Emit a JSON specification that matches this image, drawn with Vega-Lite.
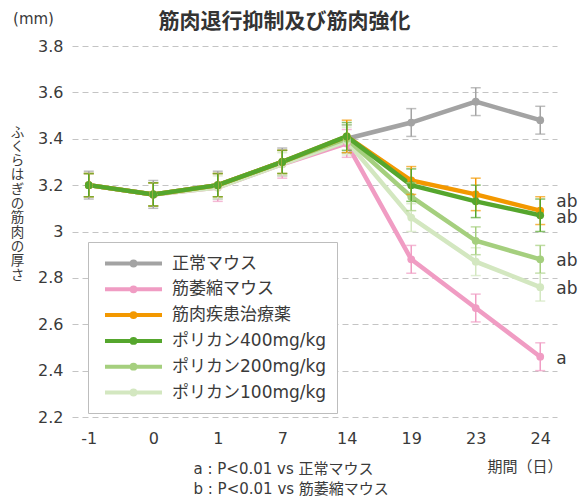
{
  "$schema": "https://vega.github.io/schema/vega-lite/v6.json",
  "width": 485,
  "height": 371,
  "autosize": {"type": "none"},
  "padding": {"left": 72, "top": 46, "right": 21, "bottom": 80},
  "background": "white",
  "title": {
    "text": "筋肉退行抑制及び筋肉強化",
    "font": "Noto Sans CJK JP",
    "fontSize": 21,
    "fontWeight": "bold",
    "color": "#333333",
    "anchor": "middle",
    "dx": -30,
    "dy": 35,
    "offset": 14
  },
  "config": {
    "view": {"stroke": null},
    "font": "DejaVu Sans, Noto Sans CJK JP",
    "axis": {"labelFont": "DejaVu Sans, Noto Sans CJK JP", "titleFont": "DejaVu Sans, Noto Sans CJK JP", "labelColor": "#3a3a3a", "titleColor": "#3a3a3a", "titleFontWeight": "normal"},
    "legend": {"labelFont": "DejaVu Sans, Noto Sans CJK JP"}
  },
  "datasets": {
    "d": [
      {"series": "正常マウス", "day": "-1", "value": 3.20, "err": 0.06},
      {"series": "正常マウス", "day": "0", "value": 3.16, "err": 0.06},
      {"series": "正常マウス", "day": "1", "value": 3.20, "err": 0.06},
      {"series": "正常マウス", "day": "7", "value": 3.30, "err": 0.06},
      {"series": "正常マウス", "day": "14", "value": 3.40, "err": 0.06},
      {"series": "正常マウス", "day": "19", "value": 3.47, "err": 0.06},
      {"series": "正常マウス", "day": "23", "value": 3.56, "err": 0.06},
      {"series": "正常マウス", "day": "24", "value": 3.48, "err": 0.06},
      {"series": "筋萎縮マウス", "day": "-1", "value": 3.20, "err": 0.05},
      {"series": "筋萎縮マウス", "day": "0", "value": 3.16, "err": 0.05},
      {"series": "筋萎縮マウス", "day": "1", "value": 3.19, "err": 0.06},
      {"series": "筋萎縮マウス", "day": "7", "value": 3.29, "err": 0.06},
      {"series": "筋萎縮マウス", "day": "14", "value": 3.38, "err": 0.06},
      {"series": "筋萎縮マウス", "day": "19", "value": 2.88, "err": 0.06},
      {"series": "筋萎縮マウス", "day": "23", "value": 2.67, "err": 0.06},
      {"series": "筋萎縮マウス", "day": "24", "value": 2.46, "err": 0.06},
      {"series": "ポリカン100mg/kg", "day": "-1", "value": 3.20, "err": 0.05},
      {"series": "ポリカン100mg/kg", "day": "0", "value": 3.16, "err": 0.05},
      {"series": "ポリカン100mg/kg", "day": "1", "value": 3.19, "err": 0.05},
      {"series": "ポリカン100mg/kg", "day": "7", "value": 3.29, "err": 0.05},
      {"series": "ポリカン100mg/kg", "day": "14", "value": 3.39, "err": 0.06},
      {"series": "ポリカン100mg/kg", "day": "19", "value": 3.06, "err": 0.06},
      {"series": "ポリカン100mg/kg", "day": "23", "value": 2.87, "err": 0.06},
      {"series": "ポリカン100mg/kg", "day": "24", "value": 2.76, "err": 0.06},
      {"series": "ポリカン200mg/kg", "day": "-1", "value": 3.20, "err": 0.05},
      {"series": "ポリカン200mg/kg", "day": "0", "value": 3.16, "err": 0.05},
      {"series": "ポリカン200mg/kg", "day": "1", "value": 3.20, "err": 0.05},
      {"series": "ポリカン200mg/kg", "day": "7", "value": 3.30, "err": 0.05},
      {"series": "ポリカン200mg/kg", "day": "14", "value": 3.40, "err": 0.06},
      {"series": "ポリカン200mg/kg", "day": "19", "value": 3.15, "err": 0.06},
      {"series": "ポリカン200mg/kg", "day": "23", "value": 2.96, "err": 0.06},
      {"series": "ポリカン200mg/kg", "day": "24", "value": 2.88, "err": 0.06},
      {"series": "筋肉疾患治療薬", "day": "-1", "value": 3.20, "err": 0.05},
      {"series": "筋肉疾患治療薬", "day": "0", "value": 3.16, "err": 0.05},
      {"series": "筋肉疾患治療薬", "day": "1", "value": 3.20, "err": 0.05},
      {"series": "筋肉疾患治療薬", "day": "7", "value": 3.30, "err": 0.05},
      {"series": "筋肉疾患治療薬", "day": "14", "value": 3.41, "err": 0.07},
      {"series": "筋肉疾患治療薬", "day": "19", "value": 3.22, "err": 0.06},
      {"series": "筋肉疾患治療薬", "day": "23", "value": 3.16, "err": 0.07},
      {"series": "筋肉疾患治療薬", "day": "24", "value": 3.09, "err": 0.06},
      {"series": "ポリカン400mg/kg", "day": "-1", "value": 3.20, "err": 0.05},
      {"series": "ポリカン400mg/kg", "day": "0", "value": 3.16, "err": 0.05},
      {"series": "ポリカン400mg/kg", "day": "1", "value": 3.20, "err": 0.05},
      {"series": "ポリカン400mg/kg", "day": "7", "value": 3.30, "err": 0.05},
      {"series": "ポリカン400mg/kg", "day": "14", "value": 3.41, "err": 0.06},
      {"series": "ポリカン400mg/kg", "day": "19", "value": 3.20, "err": 0.07},
      {"series": "ポリカン400mg/kg", "day": "23", "value": 3.13, "err": 0.07},
      {"series": "ポリカン400mg/kg", "day": "24", "value": 3.07, "err": 0.07}
    ],
    "lab": [
      {"day": "24", "value": 3.09, "label": "ab", "shift": "up"},
      {"day": "24", "value": 3.07, "label": "ab", "shift": "down"},
      {"day": "24", "value": 2.88, "label": "ab", "shift": "none"},
      {"day": "24", "value": 2.76, "label": "ab", "shift": "none"},
      {"day": "24", "value": 2.46, "label": "a", "shift": "none"}
    ]
  },
  "layer": [
    {
      "data": {"name": "d"},
      "encoding": {
        "x": {
          "field": "day", "type": "ordinal",
          "scale": {"type": "point", "domain": ["-1", "0", "1", "7", "14", "19", "23", "24"], "padding": 0.26},
          "axis": {
            "title": "期間（日）", "titleFontSize": 15, "titleAlign": "right", "titleAnchor": null,
            "titleX": 490, "titleY": 49, "titleBaseline": "middle",
            "labelAngle": 0, "labelFontSize": 16, "labelPadding": 13, "ticks": false, "domain": false, "grid": false
          }
        },
        "y": {
          "field": "value", "type": "quantitative",
          "scale": {"domain": [2.2, 3.8], "nice": false, "zero": false},
          "axis": {
            "values": [2.2, 2.4, 2.6, 2.8, 3.0, 3.2, 3.4, 3.6, 3.8],
            "format": "~g", "labelFontSize": 16, "labelPadding": 9, "ticks": false, "domain": false,
            "grid": true, "gridColor": "#c4c4c4", "gridDash": [6, 4], "gridWidth": 1,
            "title": ["ふ", "く", "ら", "は", "ぎ", "の", "筋", "肉", "の", "厚", "さ"],
            "titleAngle": 0, "titleFontSize": 13.5, "titleLineHeight": 14.3, "titleAlign": "center",
            "titleBaseline": "top", "titleX": -55, "titleY": 79, "titleFont": "Noto Sans CJK JP"
          }
        },
        "color": {
          "field": "series", "type": "nominal",
          "scale": {
            "domain": ["正常マウス", "筋萎縮マウス", "筋肉疾患治療薬", "ポリカン400mg/kg", "ポリカン200mg/kg", "ポリカン100mg/kg"],
            "range": ["#a3a3a3", "#f09cc3", "#f39800", "#55a62d", "#a5cf7e", "#d3e7c0"]
          },
          "legend": {
            "title": null, "orient": "none", "legendX": 16, "legendY": 196,
            "direction": "vertical",
            "strokeColor": "#bdbdbd", "fillColor": "white", "padding": 10,
            "symbolType": "M-3,0H3M-0.2,0A0.2,0.2,0,1,0,0.2,0A0.2,0.2,0,1,0,-0.2,0",
            "symbolSize": 361, "symbolStrokeWidth": 4, "symbolOffset": 24,
            "labelFontSize": 17, "labelOffset": 27, "labelColor": "#3a3a3a", "rowPadding": 3.8, "labelLimit": 300
          }
        }
      },
      "layer": [
        {"mark": {"type": "line", "strokeWidth": 4.5, "point": {"filled": true, "size": 60}}},
        {"mark": {"type": "errorbar", "thickness": 1.5, "ticks": {"size": 10, "thickness": 1.5}}, "encoding": {"yError": {"field": "err"}}}
      ]
    },
    {
      "data": {"name": "lab"},
      "encoding": {
        "x": {
          "field": "day", "type": "ordinal",
          "scale": {"type": "point", "domain": ["-1", "0", "1", "7", "14", "19", "23", "24"], "padding": 0.26},
          "axis": {
            "orient": "bottom", "labels": false, "ticks": false, "domain": false, "grid": false,
            "title": ["a : P<0.01 vs 正常マウス", "b : P<0.01  vs 筋萎縮マウス"],
            "titleFontSize": 15, "titleLineHeight": 20, "titleAlign": "left", "titleAnchor": null,
            "titleX": 121, "titleY": 44, "titleBaseline": "top"
          }
        },
        "y": {
          "field": "value", "type": "quantitative",
          "scale": {"domain": [2.2, 3.8], "nice": false, "zero": false},
          "axis": {
            "orient": "left", "labels": false, "ticks": false, "domain": false, "grid": false,
            "title": "(mm)", "titleAngle": 0, "titleFontSize": 15, "titleAlign": "center",
            "titleBaseline": "middle", "titleX": -39, "titleY": -28
          }
        },
        "text": {"field": "label"}
      },
      "layer": [
        {"transform": [{"filter": "datum.shift == 'none'"}], "mark": {"type": "text", "align": "left", "baseline": "middle", "dx": 16, "dy": 2, "fontSize": 17, "color": "#3a3a3a"}},
        {"transform": [{"filter": "datum.shift == 'up'"}], "mark": {"type": "text", "align": "left", "baseline": "middle", "dx": 16, "dy": -9, "fontSize": 17, "color": "#3a3a3a"}},
        {"transform": [{"filter": "datum.shift == 'down'"}], "mark": {"type": "text", "align": "left", "baseline": "middle", "dx": 16, "dy": 3, "fontSize": 17, "color": "#3a3a3a"}}
      ]
    }
  ],
  "resolve": {"scale": {"x": "independent", "y": "independent"}}
}
